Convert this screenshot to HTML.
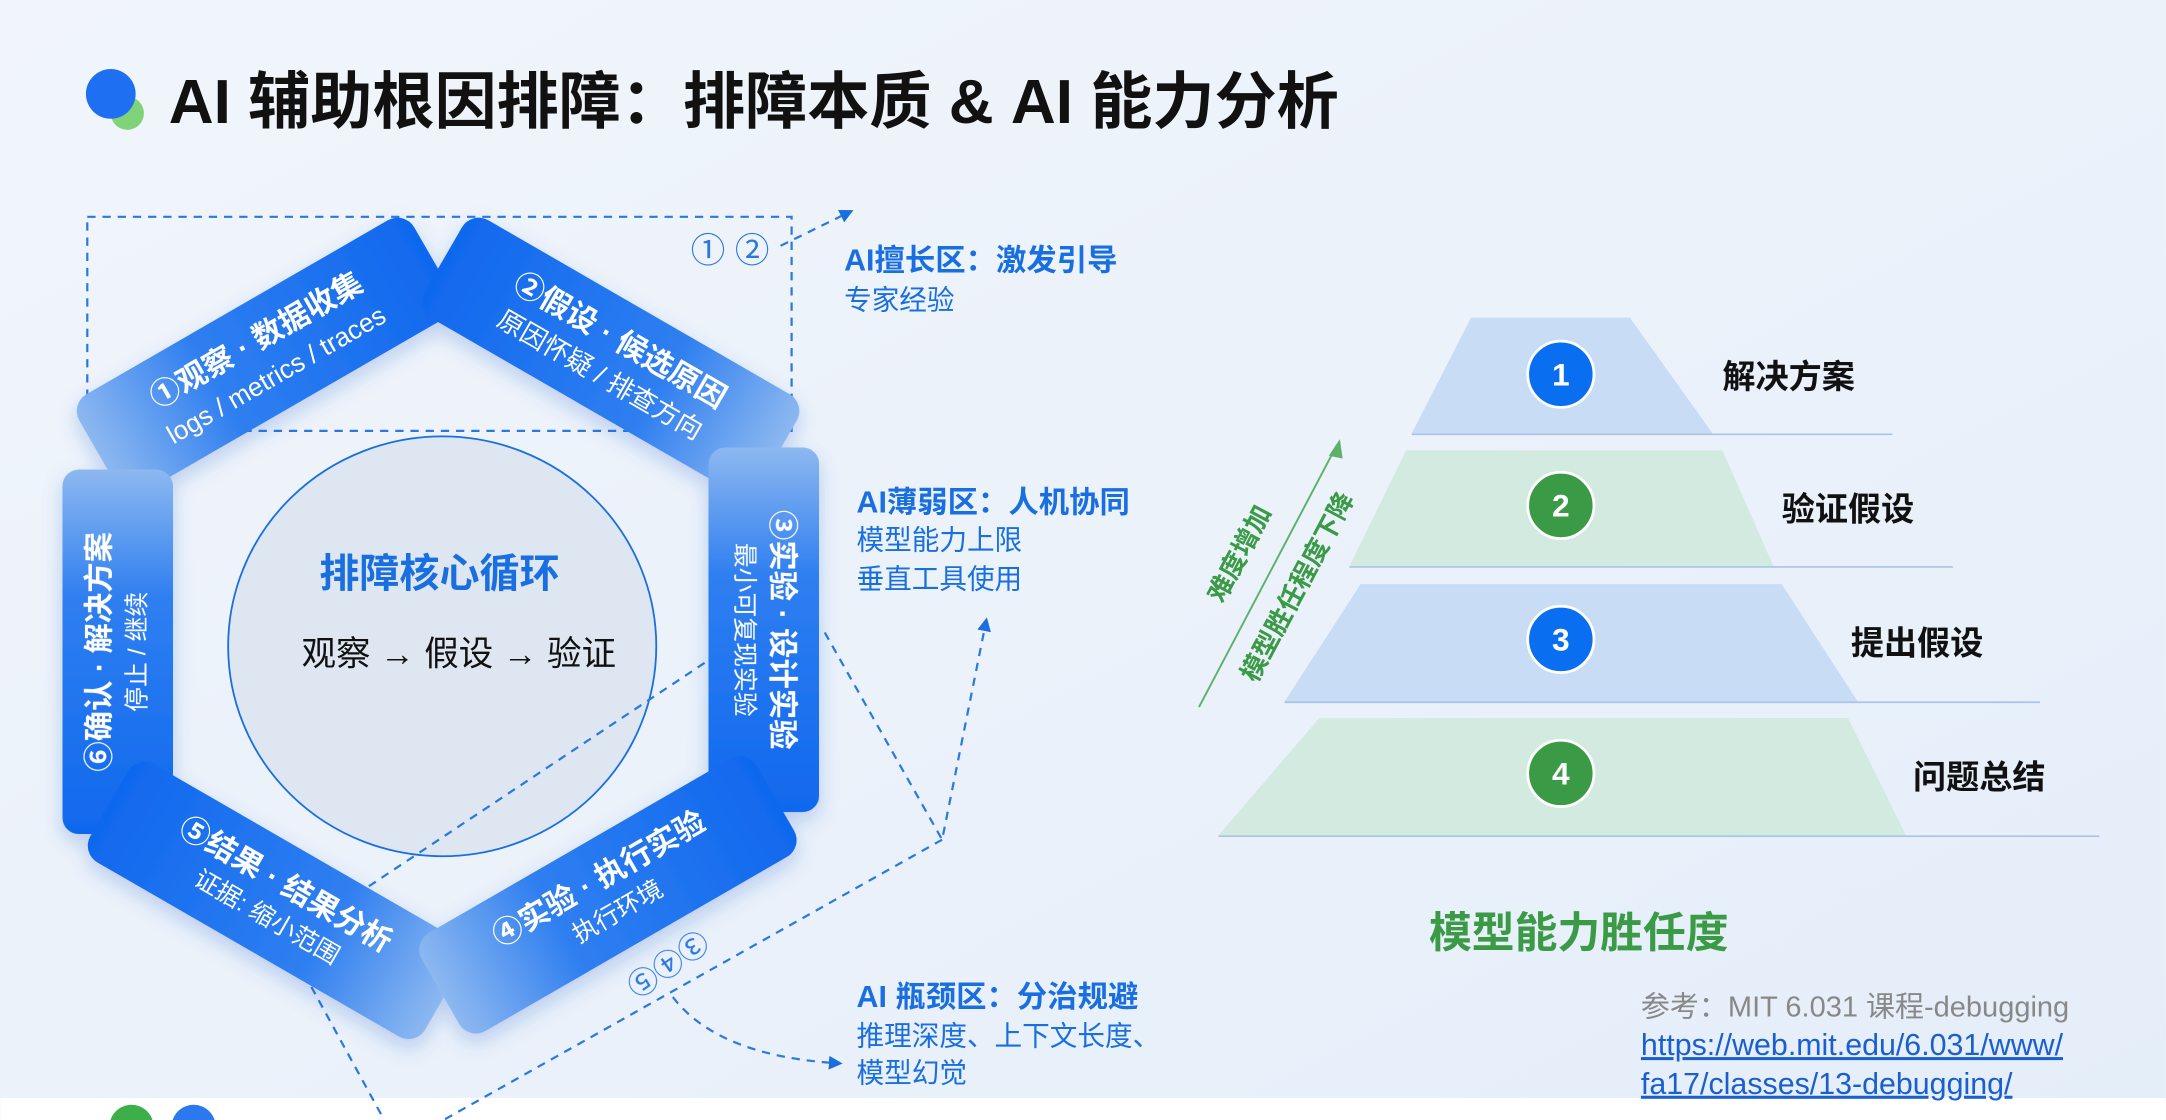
<!DOCTYPE html>
<html><head><meta charset="utf-8"><style>
html,body{margin:0;padding:0;}
body{width:2166px;height:1120px;overflow:hidden;background:#eef3fa;}
svg{display:block;font-family:"Liberation Sans","Noto Sans CJK SC",sans-serif;}
</style></head><body>
<svg width="2166" height="1120" viewBox="0 0 1568 811" xmlns="http://www.w3.org/2000/svg">
<defs>
<linearGradient id="bg" x1="0" y1="0" x2="1" y2="1">
<stop offset="0" stop-color="#f1f5fb"/><stop offset="0.6" stop-color="#eaf1fa"/><stop offset="1" stop-color="#e4eef9"/></linearGradient>
<linearGradient id="bar" x1="0" y1="0" x2="1" y2="0">
<stop offset="0" stop-color="#8db8f0"/><stop offset="0.35" stop-color="#2f7ff0"/><stop offset="1" stop-color="#1068ee"/></linearGradient>
<linearGradient id="bar2" x1="0" y1="0" x2="1" y2="0">
<stop offset="0" stop-color="#1068ee"/><stop offset="0.65" stop-color="#2f7ff0"/><stop offset="1" stop-color="#8db8f0"/></linearGradient>
<marker id="ah" markerWidth="10" markerHeight="10" refX="8" refY="5" orient="auto" markerUnits="userSpaceOnUse"><path d="M0,0 L10,5 L0,10 z" fill="#1a6fe0"/></marker>
<filter id="sh" x="-20%" y="-20%" width="140%" height="140%"><feDropShadow dx="0" dy="6" stdDeviation="7" flood-color="#1a5fd0" flood-opacity="0.25"/></filter>
</defs>
<rect width="1568" height="811" fill="url(#bg)"/>
<rect y="795" width="1568" height="16" fill="#ffffff"/>
<circle cx="95" cy="816" r="16" fill="#3cae4a"/><circle cx="140" cy="816" r="16" fill="#2c78ee"/>

<circle cx="92" cy="82" r="12" fill="#7fd47a"/>
<circle cx="80" cy="68" r="18" fill="#1e6ff2"/>
<text x="122" y="89" font-size="45" font-weight="bold" fill="#111">AI 辅助根因排障：排障本质 &amp; AI 能力分析</text>

<rect x="63" y="157" width="510" height="155" fill="none" stroke="#2a78e0" stroke-width="1.6" stroke-dasharray="6,5"/>
<line x1="565" y1="178" x2="616" y2="153" stroke="#2a78e0" stroke-width="1.6" stroke-dasharray="6,5" marker-end="url(#ah)"/>
<text x="500" y="190" font-size="25" fill="#2a78e0">① ②</text>

<ellipse cx="320" cy="468" rx="155" ry="152" fill="#dde6f1" stroke="#1a6fe0" stroke-width="1.3"/>
<text x="318" y="425" font-size="29" font-weight="bold" fill="#1a6fe0" text-anchor="middle">排障核心循环</text>
<text x="332" y="482" font-size="25" fill="#111" text-anchor="middle">观察 → 假设 → 验证</text>

<polyline points="597,458 682,608 714,449" fill="none" stroke="#2a78e0" stroke-width="1.6" stroke-dasharray="6,5" marker-end="url(#ah)"/>
<line x1="682" y1="608" x2="321" y2="811" stroke="#2a78e0" stroke-width="1.6" stroke-dasharray="6,5"/>
<line x1="510" y1="480" x2="262" y2="645" stroke="#2a78e0" stroke-width="1.6" stroke-dasharray="6,5"/>
<line x1="220" y1="705" x2="278" y2="811" stroke="#2a78e0" stroke-width="1.6" stroke-dasharray="6,5"/>
<path d="M487,722 Q520,765 608,770" fill="none" stroke="#2a78e0" stroke-width="1.6" stroke-dasharray="6,5" marker-end="url(#ah)"/>

<g filter="url(#sh)">
<g transform="translate(192,258) rotate(-30)"><rect x="-140" y="-41" width="280" height="82" rx="14" fill="url(#bar)"/>
<text y="-6" font-size="22" font-weight="bold" fill="#fff" text-anchor="middle">①观察 · 数据收集</text>
<text y="22" font-size="19" fill="#fff" text-anchor="middle">logs / metrics / traces</text></g>
<g transform="translate(442,258) rotate(30)"><rect x="-140" y="-41" width="280" height="82" rx="14" fill="url(#bar2)"/>
<text y="-6" font-size="22" font-weight="bold" fill="#fff" text-anchor="middle">②假设 · 候选原因</text>
<text y="22" font-size="19" fill="#fff" text-anchor="middle">原因怀疑 / 排查方向</text></g>
<g transform="translate(553,456) rotate(90)"><rect x="-132" y="-40" width="264" height="80" rx="12" fill="url(#bar)"/>
<text y="-6" font-size="22" font-weight="bold" fill="#fff" text-anchor="middle">③实验 · 设计实验</text>
<text y="20" font-size="18" fill="#fff" text-anchor="middle">最小可复现实验</text></g>
<g transform="translate(85,472) rotate(-90)"><rect x="-132" y="-40" width="264" height="80" rx="12" fill="url(#bar2)"/>
<text y="-6" font-size="22" font-weight="bold" fill="#fff" text-anchor="middle">⑥确认 · 解决方案</text>
<text y="20" font-size="18" fill="#fff" text-anchor="middle">停止 / 继续</text></g>
<g transform="translate(200,652) rotate(30)"><rect x="-140" y="-41" width="280" height="82" rx="14" fill="url(#bar2)"/>
<text y="-6" font-size="22" font-weight="bold" fill="#fff" text-anchor="middle">⑤结果 · 结果分析</text>
<text y="20" font-size="18" fill="#fff" text-anchor="middle">证据: 缩小范围</text></g>
<g transform="translate(440,648) rotate(-30)"><rect x="-140" y="-41" width="280" height="82" rx="14" fill="url(#bar)"/>
<text y="-6" font-size="22" font-weight="bold" fill="#fff" text-anchor="middle">④实验 · 执行实验</text>
<text y="20" font-size="18" fill="#fff" text-anchor="middle">执行环境</text></g>
</g>
<text transform="translate(482,696) rotate(145)" font-size="22" fill="#2a78e0" text-anchor="middle" dominant-baseline="middle">③④⑤</text>

<g fill="#1a6fe0">
<text x="611" y="196" font-size="22" font-weight="bold">AI擅长区：激发引导</text>
<text x="611" y="224" font-size="20">专家经验</text>
<text x="620" y="371" font-size="22" font-weight="bold">AI薄弱区：人机协同</text>
<text x="620" y="398" font-size="20">模型能力上限</text>
<text x="620" y="426" font-size="20">垂直工具使用</text>
<text x="620" y="729" font-size="22" font-weight="bold">AI 瓶颈区：分治规避</text>
<text x="620" y="757" font-size="20">推理深度、上下文长度、</text>
<text x="620" y="784" font-size="20">模型幻觉</text>
</g>

<polygon points="1065,230 1180,230 1240,314 1022,314" fill="#c9dcf5"/>
<line x1="1022" y1="314.5" x2="1370" y2="314.5" stroke="#a9c4e6" stroke-width="1.2"/>
<polygon points="1018,326 1247,326 1284,410 977,410" fill="#d3eae0"/>
<line x1="977" y1="410.5" x2="1414" y2="410.5" stroke="#a9c4e6" stroke-width="1.2"/>
<polygon points="985,423 1290,423 1345,508 930,508" fill="#c9dcf5"/>
<line x1="930" y1="508.5" x2="1477" y2="508.5" stroke="#a9c4e6" stroke-width="1.2"/>
<polygon points="955,520 1338,520 1380,605 882,605" fill="#d3eae0"/>
<line x1="882" y1="605.5" x2="1520" y2="605.5" stroke="#a9c4e6" stroke-width="1.2"/>
<g stroke="#fff" stroke-width="2">
<circle cx="1130" cy="271" r="24" fill="#0a6ef0"/><circle cx="1130" cy="366" r="24" fill="#3a9a45"/>
<circle cx="1130" cy="463" r="24" fill="#0a6ef0"/><circle cx="1130" cy="560" r="24" fill="#3a9a45"/>
</g>
<g fill="#fff" font-size="23" font-weight="bold" text-anchor="middle">
<text x="1130" y="279">1</text><text x="1130" y="374">2</text><text x="1130" y="471">3</text><text x="1130" y="568">4</text>
</g>
<g fill="#111" font-size="24" font-weight="bold">
<text x="1247" y="281">解决方案</text><text x="1290" y="377">验证假设</text>
<text x="1340" y="474">提出假设</text><text x="1385" y="571">问题总结</text>
</g>
<line x1="868" y1="512" x2="968" y2="322" stroke="#5cb26a" stroke-width="1.4"/>
<polygon points="970,318 962,330 972,332" fill="#5cb26a"/>
<g fill="#3a9a45" font-size="19" font-weight="bold" text-anchor="middle">
<text transform="translate(903,404) rotate(-62)">难度增加</text>
<text transform="translate(945,428) rotate(-62)">模型胜任程度下降</text>
</g>
<text x="1143" y="686" font-size="31" font-weight="bold" fill="#3a9a45" text-anchor="middle">模型能力胜任度</text>

<text x="1188" y="736" font-size="21" fill="#888">参考：MIT 6.031 课程-debugging</text>
<text x="1188" y="764" font-size="22" fill="#1a5fd0" text-decoration="underline">https://web.mit.edu/6.031/www/</text>
<text x="1188" y="792" font-size="22" fill="#1a5fd0" text-decoration="underline">fa17/classes/13-debugging/</text>
</svg>
</body></html>
